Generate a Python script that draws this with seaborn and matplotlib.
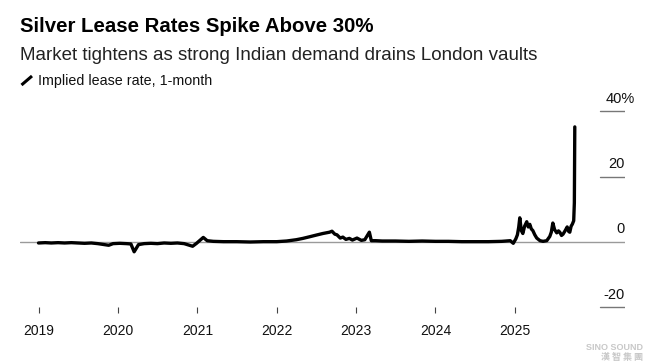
import matplotlib
matplotlib.use("Agg")
import matplotlib.pyplot as plt
import matplotlib.dates as mdates
from matplotlib.transforms import blended_transform_factory, offset_copy
import seaborn as sns
import pandas as pd

# ---- data ----
dates = [
    "2019-01-01", "2019-02-01", "2019-03-01", "2019-04-01", "2019-05-01", "2019-06-01",
    "2019-07-01", "2019-08-01", "2019-09-01", "2019-10-01", "2019-11-20", "2019-12-10",
    "2020-01-10", "2020-02-10", "2020-03-01", "2020-03-16", "2020-04-05", "2020-05-01",
    "2020-06-01", "2020-07-01", "2020-08-01", "2020-09-01", "2020-10-01", "2020-11-01",
    "2020-12-10", "2020-12-28", "2021-01-28", "2021-02-15", "2021-03-15", "2021-05-01",
    "2021-07-01", "2021-09-01", "2021-11-01", "2022-01-01", "2022-02-15", "2022-04-01",
    "2022-05-01", "2022-06-01", "2022-07-01", "2022-08-01", "2022-09-01", "2022-09-12",
    "2022-09-25", "2022-10-05", "2022-10-20", "2022-11-01", "2022-11-15", "2022-12-01",
    "2022-12-15", "2023-01-05", "2023-01-25", "2023-02-10", "2023-03-03", "2023-03-12",
    "2023-04-01", "2023-05-01", "2023-07-01", "2023-09-01", "2023-11-01", "2024-01-01",
    "2024-03-01", "2024-05-01", "2024-07-01", "2024-09-01", "2024-11-01", "2024-12-10",
    "2024-12-24", "2025-01-05", "2025-01-12", "2025-01-18", "2025-01-23", "2025-01-30",
    "2025-02-06", "2025-02-14", "2025-02-24", "2025-03-03", "2025-03-10", "2025-03-17",
    "2025-03-24", "2025-04-02", "2025-04-11", "2025-04-26", "2025-05-10", "2025-05-27",
    "2025-06-10", "2025-06-17", "2025-06-24", "2025-07-02", "2025-07-12", "2025-07-20",
    "2025-07-26", "2025-08-03", "2025-08-10", "2025-08-20", "2025-08-29", "2025-09-05",
    "2025-09-10", "2025-09-16", "2025-09-22", "2025-09-28", "2025-10-01", "2025-10-03",
]
lease_rate = [
    -0.3, -0.2, -0.3, -0.2, -0.3, -0.2,
    -0.3, -0.4, -0.3, -0.5, -1.0, -0.5,
    -0.4, -0.5, -0.6, -3.0, -0.8, -0.5,
    -0.4, -0.5, -0.3, -0.4, -0.3, -0.5,
    -1.3, -0.4, 1.4, 0.4, 0.2, 0.1,
    0.1, 0.0, 0.1, 0.1, 0.3, 0.7,
    1.1, 1.6, 2.1, 2.6, 3.0, 3.3,
    2.4, 2.2, 1.2, 1.5, 0.8, 1.1,
    0.6, 1.2, 0.5, 0.7, 3.0, 0.4,
    0.4, 0.3, 0.3, 0.2, 0.3, 0.2,
    0.2, 0.1, 0.1, 0.1, 0.2, 0.4,
    -0.4, 1.0, 2.2, 4.5, 7.4, 3.5,
    2.6, 4.8, 6.2, 4.6, 5.4, 4.0,
    3.5, 2.2, 1.2, 0.4, 0.2, 0.4,
    1.7, 3.0, 5.8, 3.8, 2.8, 3.4,
    3.0, 2.0, 2.4, 3.5, 4.6, 3.2,
    3.0, 4.8, 5.5, 6.5, 12.0, 35.2,
]
year_ticks = ["2019", "2020", "2021", "2022", "2023", "2024", "2025"]
y_ticks = [-20, 0, 20, 40]
y_tick_labels = ["-20", "0", "20", "40%"]

title = "Silver Lease Rates Spike Above 30%"
subtitle = "Market tightens as strong Indian demand drains London vaults"
legend_label = "Implied lease rate, 1-month"

df = pd.DataFrame({"date": pd.to_datetime(dates), "rate": lease_rate})

# ---- style ----
sns.set_style("white")
plt.rcParams["font.family"] = ["Liberation Sans", "DejaVu Sans"]

W, H = 655, 363
fig = plt.figure(figsize=(W / 100, H / 100), dpi=100)

ax_left, ax_right, ax_top, ax_bottom = 20, 625, 100, 313
ax = fig.add_axes([ax_left / W, 1 - ax_bottom / H, (ax_right - ax_left) / W, (ax_bottom - ax_top) / H])

px_per_year = 79.4
x0 = mdates.date2num(pd.Timestamp("2019-01-01"))
days_per_px = 365.25 / px_per_year
ax.set_xlim(x0 - (38.5 - ax_left) * days_per_px, x0 + (ax_right - 38.5) * days_per_px)
px_per_unit = 3.27
ax.set_ylim(-(ax_bottom - 242) / px_per_unit, (242 - ax_top) / px_per_unit)

sns.lineplot(data=df, x="date", y="rate", ax=ax, color="black", linewidth=2.4,
             estimator=None, solid_joinstyle="round", solid_capstyle="round", zorder=3)

for s in ax.spines.values():
    s.set_visible(False)

ax.axhline(0, color="#9a9a9a", linewidth=1.0, zorder=1)
seg_start = (600 - ax_left) / (ax_right - ax_left)
for v in y_ticks:
    if v != 0:
        ax.axhline(v, xmin=seg_start, xmax=1.0, color="#777777", linewidth=1.0, zorder=1)

ax.set_yticks([])
ax.set_ylabel("")
ax.set_xlabel("")

trans = blended_transform_factory(ax.transAxes, ax.transData)
t = offset_copy(trans, fig=fig, x=0, y=4, units="points")
for v, lab in zip(y_ticks, y_tick_labels):
    if lab.endswith("%"):
        ax.text((606 - ax_left) / (ax_right - ax_left), v, lab, transform=t, ha="left",
                va="bottom", fontsize=10.5, color="#111111")
    else:
        ax.text(1.0, v, lab, transform=t, ha="right", va="bottom", fontsize=10.5, color="#111111")

ax.set_xticks(mdates.date2num(pd.to_datetime([y + "-01-01" for y in year_ticks])))
ax.set_xticklabels(year_ticks)
ax.tick_params(axis="x", direction="in", length=4.5, width=0.8, color="#444444",
               pad=8, labelsize=10, labelcolor="#111111", bottom=True)

fig.text(20 / W, 1 - 32 / H, title, fontsize=14.7, fontweight="bold", color="#000000",
         ha="left", va="baseline")
fig.text(20 / W, 1 - 60 / H, subtitle, fontsize=13.5, color="#222222", ha="left", va="baseline")
fig.text(38 / W, 1 - 85 / H, legend_label, fontsize=10.3, color="#111111", ha="left", va="baseline")
fig.add_artist(plt.Line2D([21.5 / W, 32 / W], [1 - 85 / H, 1 - 76 / H], color="black",
                          linewidth=2.2, solid_capstyle="butt", transform=fig.transFigure))

fig.text(643 / W, 1 - 350 / H, "SINO SOUND", fontsize=6.5, fontweight="bold", color="#c8c8c8",
         ha="right", va="baseline")
fig.text(643 / W, 1 - 360 / H, "漢 智 集 團", fontsize=6.5, fontweight="bold", color="#c8c8c8",
         ha="right", va="baseline", family=["Noto Sans CJK TC", "DejaVu Sans"])

fig.savefig("out.png", dpi=100)
